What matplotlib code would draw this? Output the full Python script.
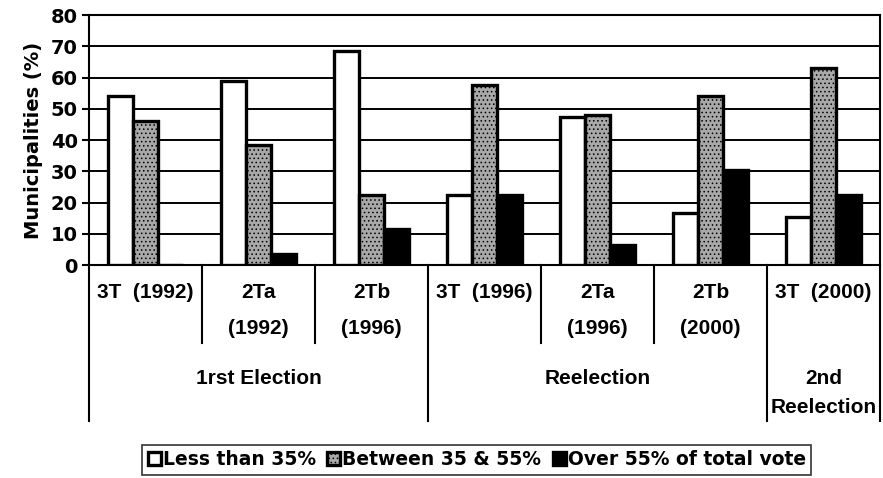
import numpy as np
import matplotlib.pyplot as plt

# data
sub_labels = ["3T  (1992)", "2Ta\n(1992)", "2Tb\n(1996)", "3T  (1996)",
              "2Ta\n(1996)", "2Tb\n(2000)", "3T  (2000)"]
group_labels = ["1rst Election", "Reelection", "2nd\nReelection"]
group_spans = [(0, 2), (3, 5), (6, 6)]
less_35 = [54, 59, 68.5, 22.5, 47.5, 16.5, 15.5]
between_35_55 = [46, 38.5, 22.5, 57.5, 48, 54, 63]
over_55 = [0, 3.5, 11.5, 22.5, 6.5, 30.5, 22.5]
series_names = ["Less than 35%", "Between 35 & 55%", "Over 55% of total vote"]

plt.rcParams['hatch.linewidth'] = 0.6

fig = plt.figure(figsize=(8.83, 4.78), dpi=100)
ax = fig.add_axes([0.1008, 0.4456, 0.8958, 0.523])

x = np.arange(len(sub_labels))
w = 0.22
b1 = ax.bar(x - w, less_35, w, facecolor="white", edgecolor="black", linewidth=2.4, zorder=3)
b2 = ax.bar(x, between_35_55, w, facecolor="#a8a8a8", edgecolor="black", hatch="....",
            linewidth=2.4, zorder=3)
b3 = ax.bar(x + w, over_55, w, facecolor="black", edgecolor="black", linewidth=2.4, zorder=3)

ax.set_xlim(-0.5, len(sub_labels) - 0.5)
ax.set_ylim(0, 80)
ax.set_yticks(range(0, 81, 10))
ax.yaxis.grid(True, color="black", linewidth=1.4, zorder=0)
ax.set_axisbelow(True)
ax.set_xticks([])
for s in ax.spines.values():
    s.set_linewidth(1.5)
ax.tick_params(axis="y", length=5, width=1.5, pad=3)
for lab in ax.get_yticklabels():
    lab.set_fontweight("bold")
    lab.set_fontsize(14)
ax.set_ylabel("Municipalities (%)", fontsize=14, fontweight="bold", labelpad=6)

# category table under the axis
tr = ax.get_xaxis_transform()
short_y = -0.312
long_y = -0.624
bounds = {-0.5: long_y, 0.5: short_y, 1.5: short_y, 2.5: long_y,
          3.5: short_y, 4.5: short_y, 5.5: long_y, 6.5: long_y}
for bx, by in bounds.items():
    ax.plot([bx, bx], [0, by], color="black", lw=1.5, transform=tr, clip_on=False)

cat_font = dict(fontsize=15, fontweight="bold", family=["Liberation Sans", "DejaVu Sans"])
for i, lab in enumerate(sub_labels):
    for j, line in enumerate(lab.split("\n")):
        ax.text(i, -0.108 - j * 0.144, line, ha="center", va="center",
                transform=tr, **cat_font)
for (a, b), lab in zip(group_spans, group_labels):
    for j, line in enumerate(lab.split("\n")):
        ax.text((a + b) / 2, -0.452 - j * 0.118, line, ha="center", va="center",
                transform=tr, **cat_font)

leg = fig.legend([b1, b2, b3], series_names, loc="center", bbox_to_anchor=(0.54, 0.038),
                 ncol=3, frameon=True, fancybox=False, handlelength=0.7, handleheight=0.7,
                 handletextpad=0.1, columnspacing=0.6, borderpad=0.3,
                 prop=dict(weight="bold", size=13.5))
leg.get_frame().set_edgecolor("black")
leg.get_frame().set_linewidth(1.2)

fig.savefig("out.png", dpi=100)
